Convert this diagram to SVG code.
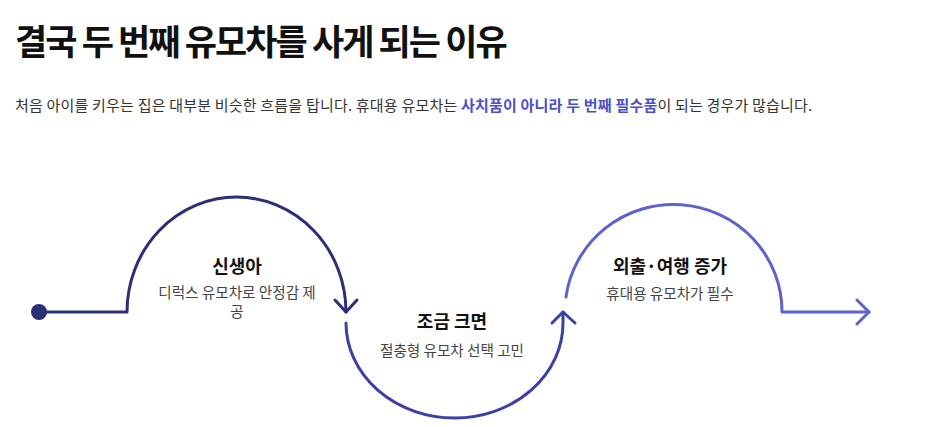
<svg xmlns="http://www.w3.org/2000/svg" width="932" height="427" viewBox="0 0 932 427">
<style>
text{font-family:"Noto Sans CJK KR","Noto Sans",sans-serif}
.title{font-size:35px;font-weight:700;fill:#111;letter-spacing:-1.9px}
.lead{font-size:15px;fill:#333;letter-spacing:0.2px}
.hl{font-weight:700;fill:#4a50c6}
.nt{font-size:18px;font-weight:700;fill:#111;text-anchor:middle}
.ns{font-size:14.6px;fill:#444;text-anchor:middle}
.ln{fill:none;stroke-width:3;stroke-linecap:round;stroke-linejoin:round}
</style>
<rect width="932" height="427" fill="#fff"/>
<text class="title" x="15" y="55">결국 두 번째 유모차를 사게 되는 이유</text>
<text class="lead" x="15" y="111">처음 아이를 키우는 집은 대부분 비슷한 흐름을 탑니다. 휴대용 유모차는 <tspan class="hl">사치품이 아니라 두 번째 필수품</tspan>이 되는 경우가 많습니다.</text>
<g id="connectors">
<circle cx="39" cy="312" r="8" fill="#2b2f75"/>
<path class="ln" stroke="#2b2f75" d="M39,312 H127 A109.5,115 0 0 1 346,312"/>
<path class="ln" stroke="#2b2f75" d="M335,300 L346,312 L357,300"/>
<path class="ln" stroke="#3b40a6" d="M346,323 A108.5,95 0 0 0 563,323 L563,312"/>
<path class="ln" stroke="#3b40a6" d="M552,323 L563,312 L575,323"/>
<path class="ln" stroke="#5c63c9" d="M566,297 A108.5,107 0 0 1 782,312 H869"/>
<path class="ln" stroke="#5c63c9" d="M857,300 L869,312 L857,324"/>
</g>
<g id="node1">
<text class="nt" x="237" y="273">신생아</text>
<text class="ns" x="237" y="298">디럭스 유모차로 안정감 제</text>
<text class="ns" x="237" y="317">공</text>
</g>
<g id="node2">
<text class="nt" x="452" y="328">조금 크면</text>
<text class="ns" x="452" y="356">절충형 유모차 선택 고민</text>
</g>
<g id="node3">
<text class="nt" x="670" y="273">외출·여행 증가</text>
<text class="ns" x="670" y="299">휴대용 유모차가 필수</text>
</g>
</svg>
